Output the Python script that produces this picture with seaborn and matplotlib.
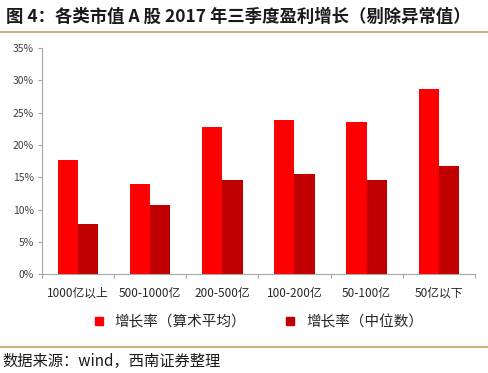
import numpy as np
import pandas as pd
import seaborn as sns
import matplotlib.pyplot as plt
from matplotlib.lines import Line2D
from matplotlib.ticker import FuncFormatter

sns.set_theme(style="white")
plt.rcParams['font.family'] = ['Noto Sans CJK SC', 'DejaVu Sans']

# data
categories = ["1000亿以上", "500-1000亿", "200-500亿", "100-200亿", "50-100亿", "50亿以下"]
series_names = ["增长率（算术平均）", "增长率（中位数）"]
mean_growth = [0.176, 0.140, 0.228, 0.238, 0.235, 0.286]
median_growth = [0.078, 0.107, 0.146, 0.155, 0.146, 0.167]
colors = ["#FF0000", "#C00000"]

df = pd.DataFrame({
    "cat": categories * 2,
    "series": [series_names[0]] * 6 + [series_names[1]] * 6,
    "value": mean_growth + median_growth,
})

fig = plt.figure(figsize=(4.88, 3.73), dpi=100)
ax = fig.add_axes([0.086, 0.265, 0.887, 0.606])
sns.barplot(data=df, x="cat", y="value", hue="series", palette=colors,
            width=0.56, saturation=1, linewidth=0, ax=ax, legend=False)

ax.set_ylim(0, 0.35)
ax.set_yticks(np.arange(0, 0.351, 0.05))
ax.yaxis.set_major_formatter(FuncFormatter(lambda v, p: f"{v*100:.0f}%"))
ax.set_xlim(-0.5, 5.5)
ax.set_xlabel("")
ax.set_ylabel("")
for s in ["top", "right"]:
    ax.spines[s].set_visible(False)
for s in ["left", "bottom"]:
    ax.spines[s].set_color("#A6A6A6")
    ax.spines[s].set_linewidth(0.8)
ax.tick_params(axis="y", labelsize=7.5, colors="#404040", left=True, length=3, width=0.8, color="#A6A6A6", pad=3)
ax.tick_params(axis="x", labelsize=8.5, colors="#262626", bottom=False, pad=3)
ax.set_xticks(np.arange(-0.5, 5.6, 1), minor=True)
ax.tick_params(axis="x", which="minor", bottom=True, length=3, width=0.8, color="#A6A6A6")

handles = [Line2D([], [], marker="s", linestyle="", markersize=6, color=c) for c in colors]
fig.legend(handles, series_names, loc="center", bbox_to_anchor=(0.52, 0.137), ncol=2,
           frameon=False, fontsize=10.5, handletextpad=0.1, columnspacing=2.0, labelcolor="#262626")

fig.text(0.012, 0.955, "图 4：各类市值 A 股 2017 年三季度盈利增长（剔除异常值）",
         fontsize=12.5, fontweight="bold", color="#1a1a1a", va="center")
fig.add_artist(Line2D([0, 1], [0.915, 0.915], color="#C8A060", linewidth=1.2))
fig.add_artist(Line2D([0, 1], [0.07, 0.07], color="#C8A060", linewidth=1.2))
fig.text(0.005, 0.03, "数据来源：wind，西南证券整理", fontsize=11, style="italic",
         color="#1a1a1a", va="center")

fig.savefig("out.png", dpi=100)
